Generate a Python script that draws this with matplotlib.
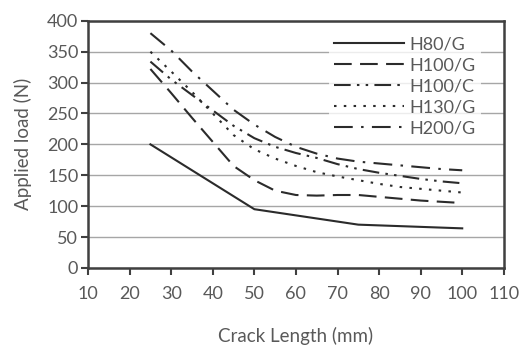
import numpy as np
import matplotlib
matplotlib.use("Agg")
import matplotlib.pyplot as plt

plt.rcParams['font.family'] = ['Lato', 'DejaVu Sans']

# crack length (mm)
x_h80 = [25, 50, 75, 100]
x_fine = [25, 30, 35, 40, 45, 50, 55, 60, 65, 70, 75, 80, 85, 90, 95, 100]

# applied load (N)
h80_g = [200, 95, 70, 64]
h100_g = [322, 283, 243, 204, 165, 142, 125, 118, 117, 118, 118, 115, 112, 109, 107, 105]
h100_c = [334, 305, 280, 255, 230, 210, 196, 186, 178, 168, 160, 154, 149, 144, 140, 137]
h130_g = [350, 318, 285, 250, 215, 192, 177, 165, 155, 148, 142, 136, 131, 128, 125, 122]
h200_g = [380, 352, 318, 287, 256, 232, 212, 196, 185, 177, 172, 169, 166, 163, 160, 158]

labels = ['H80/G', 'H100/G', 'H100/C', 'H130/G', 'H200/G']

txt = '#595959'
ink = '#2b2b2b'

fig = plt.figure(figsize=(5.21, 3.47), dpi=100)
ax = fig.add_axes([0.169, 0.228, 0.798, 0.712])

lw = 1.5
ax.plot(x_h80, h80_g, color=ink, lw=lw, ls='-', label=labels[0])
ax.plot(x_fine, h100_g, color=ink, lw=lw, ls=(0, (8.5, 4)), label=labels[1])
ax.plot(x_fine, h100_c, color=ink, lw=lw, ls=(0, (8, 3, 1.2, 3, 1.2, 3)), label=labels[2])
ax.plot(x_fine, h130_g, color=ink, lw=lw, ls=(0, (1.2, 3.5)), label=labels[3])
ax.plot(x_fine, h200_g, color=ink, lw=lw, ls=(0, (9, 4, 1.2, 4)), label=labels[4])

ax.set_xlim(10, 110)
ax.set_ylim(0, 400)
ax.set_xticks(np.arange(10, 111, 10))
ax.set_yticks(np.arange(0, 401, 50))
ax.yaxis.grid(True, color='#a6a6a6', lw=1.0)
ax.set_axisbelow(True)

for s in ax.spines.values():
    s.set_color('#404040')
    s.set_linewidth(1.8)

ax.tick_params(axis='both', colors='#404040', labelcolor=txt, labelsize=13,
               length=5, width=1.5, direction='out')
ax.tick_params(axis='x', pad=8)
ax.tick_params(axis='y', pad=2)

ax.set_xlabel('Crack Length (mm)', color=txt, fontsize=13.5, labelpad=18)
ax.set_ylabel('Applied load (N)', color=txt, fontsize=13.5, labelpad=11)

leg = ax.legend(loc='upper right', bbox_to_anchor=(0.955, 0.975), frameon=True,
                fontsize=13, handlelength=3.9, handletextpad=0.3,
                labelspacing=0.28, borderpad=0.3, borderaxespad=0.2)
leg.get_frame().set_facecolor('white')
leg.get_frame().set_edgecolor('none')
for t in leg.get_texts():
    t.set_color(txt)

fig.savefig('out.png', dpi=100)
